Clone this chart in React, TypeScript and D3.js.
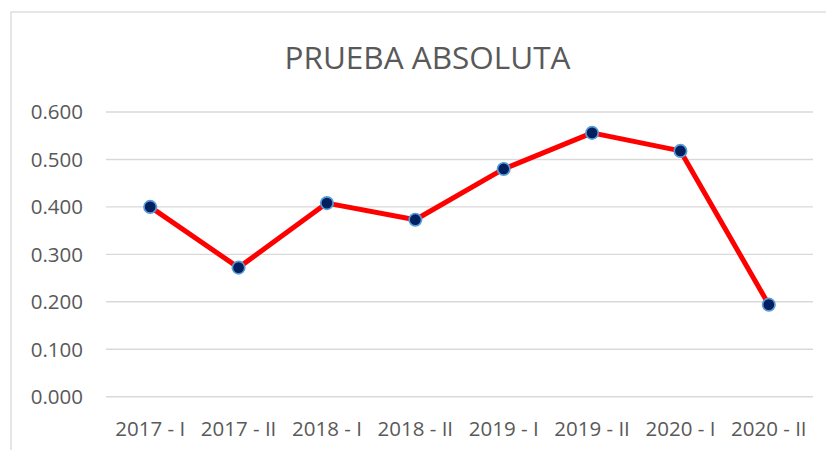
import React from 'react';
import * as d3 from 'd3';

const categories = ['2017 - I', '2017 - II', '2018 - I', '2018 - II', '2019 - I', '2019 - II', '2020 - I', '2020 - II'];
const values = [0.400, 0.272, 0.408, 0.373, 0.480, 0.556, 0.518, 0.194];
const yTicks = [0, 0.1, 0.2, 0.3, 0.4, 0.5, 0.6];

const W = 826;
const H = 450;
const FONT = '"Open Sans", "Liberation Sans", Arial, sans-serif';

export default function App() {
  // plot area
  const left = 106;
  const right = 813;
  const top = 112;
  const bottom = 396.7;

  const x = d3.scaleBand<string>().domain(categories).range([left, right]);
  const y = d3.scaleLinear().domain([0, 0.6]).range([bottom, top]);
  const cx = (i: number) => (x(categories[i]) ?? 0) + x.bandwidth() / 2;

  const line = d3.line<number>()
    .x((_, i) => cx(i))
    .y(d => y(d));

  return (
    <svg width={W} height={H} style={{ position: 'absolute', left: 0, top: 0, background: '#fff' }}>
      {/* chart border */}
      <rect x={11} y={12} width={W} height={H} fill="#fff" stroke="#d9d9d9" strokeWidth={1.3} />

      <text x={427.5} y={69} textAnchor="middle" fontFamily={FONT} fontSize={31.5} fill="#595959">
        PRUEBA ABSOLUTA
      </text>

      {/* gridlines + y labels */}
      {yTicks.map(t => (
        <g key={t}>
          <line x1={left} x2={right} y1={y(t)} y2={y(t)} stroke="#d9d9d9" strokeWidth={1.4} />
          <text x={83} y={y(t)} dy="0.36em" textAnchor="end" fontFamily={FONT} fontSize={20.5} fill="#595959">
            {d3.format('.3f')(t)}
          </text>
        </g>
      ))}

      {/* x labels */}
      {categories.map((c, i) => (
        <text key={c} x={cx(i)} y={436} textAnchor="middle"
          fontFamily={FONT} fontSize={20.5} fill="#595959">
          {c}
        </text>
      ))}

      <path d={line(values) ?? ''} fill="none" stroke="#ff0000" strokeWidth={5} strokeLinejoin="round" />

      {values.map((v, i) => (
        <circle key={i} cx={cx(i)} cy={y(v)} r={6.2}
          fill="#002060" stroke="#5b9bd5" strokeWidth={1.7} />
      ))}
    </svg>
  );
}
